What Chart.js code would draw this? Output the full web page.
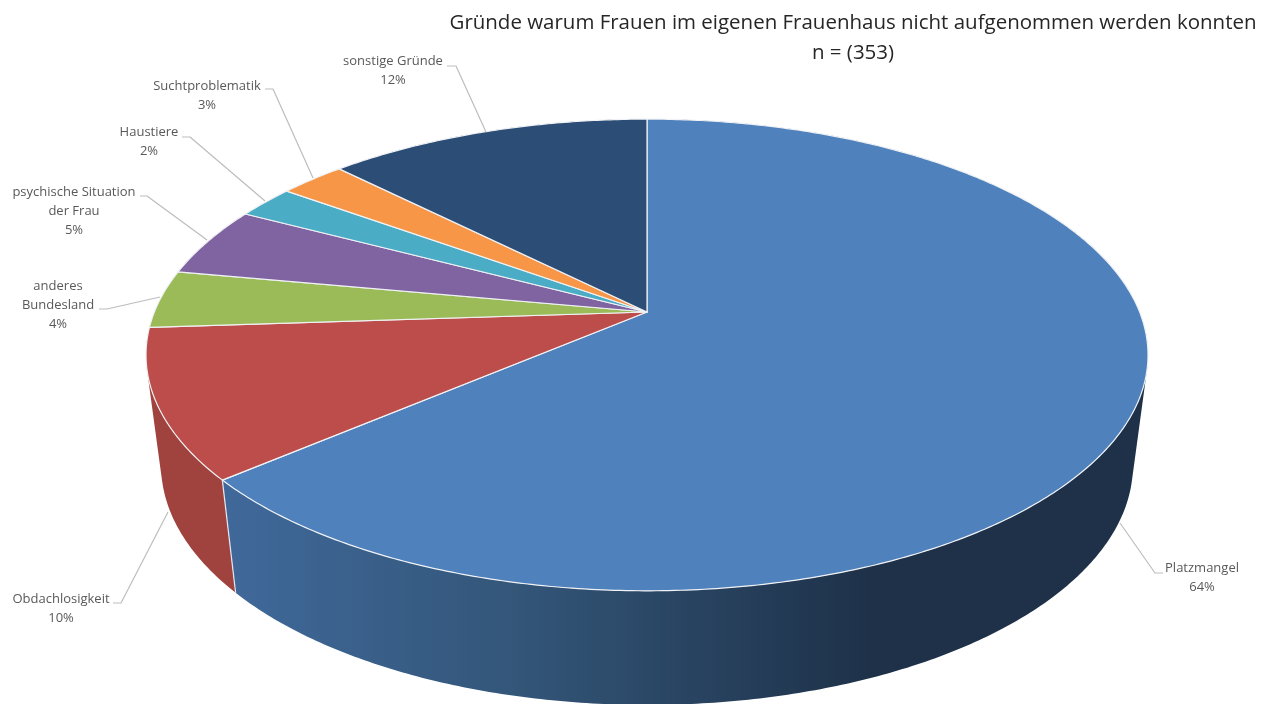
<!DOCTYPE html>
<html lang="de">
<head>
<meta charset="utf-8">
<title>Gründe warum Frauen nicht aufgenommen werden konnten</title>
<script src="https://cdn.jsdelivr.net/npm/chart.js@4/dist/chart.umd.js"></script>
<style>
  html, body { margin: 0; padding: 0; background: #fff; overflow: hidden; }
  canvas { display: block; filter: blur(0.35px); }
</style>
</head>
<body>
<canvas id="pie" width="1274" height="704"></canvas>
<script>
// --- data
const titleLines = ['Gründe warum Frauen im eigenen Frauenhaus nicht aufgenommen werden konnten', 'n = (353)'];
const categories = ['Platzmangel', 'Obdachlosigkeit', ['anderes', 'Bundesland'], ['psychische Situation', 'der Frau'], 'Haustiere', 'Suchtproblematik', 'sonstige Gründe'];
const counts = [225, 36, 14, 17, 8, 9, 44];
const topColors = ['#4f81bd', '#bd4d4a', '#9bbb59', '#8064a2', '#4bacc6', '#f79646', '#2c4d75'];
const wallColors = ['#3f6a9c', '#a0433f', '#7f9a49', '#6a5386', '#3e8ea4', '#cc7c3a', '#243f60'];

// --- perspective of the two discs (top face and bottom face)
const topDisc = { cx: 647, cy: 312, a: 492.6, b: 228, k: 0.1822 };
const bottomDisc = { cx: 647, cy: 422, a: 478, b: 232, k: 0.18 };

// --- label placement: centre x, first line y, leader polyline
const labelSpots = [
  { x: 1202, y: 568, line: [[1163, 573], [1155, 573], [1120, 523]] },
  { x: 61, y: 599, line: [[113, 603], [121, 603], [168, 512]] },
  { x: 58, y: 286, line: [[99, 309], [107, 309], [160, 297]] },
  { x: 74, y: 192, line: [[140, 196], [147, 196], [207, 240]] },
  { x: 149, y: 132, line: [[182, 137], [190, 137], [265, 201]] },
  { x: 207, y: 86, line: [[265, 89], [273, 89], [313, 178]] },
  { x: 393, y: 61, line: [[447, 66], [456, 66], [486, 132]] }
];

// project a pie angle onto a disc, nearer edge gets bigger
function project(disc, angle) {
  const u = Math.cos(angle), v = Math.sin(angle);
  const w = 1 - disc.k * v;
  return [disc.cx + disc.a * u / w, disc.cy + disc.b * v / w];
}

function traceRim(ctx, disc, from, to) {
  const steps = Math.max(2, Math.ceil(Math.abs(to - from) / 0.01));
  for (let i = 0; i <= steps; i++) {
    const p = project(disc, from + (to - from) * i / steps);
    ctx.lineTo(p[0], p[1]);
  }
}

// small quads in one path, all wound the same way, so there are no seams
// and the outline follows the tangent between the two rims
function fillWall(ctx, from, to, style) {
  const steps = Math.max(2, Math.ceil((to - from) / 0.01));
  ctx.beginPath();
  for (let i = 0; i < steps; i++) {
    const a0 = from + (to - from) * i / steps;
    const a1 = from + (to - from) * (i + 1) / steps;
    const p = [project(topDisc, a0), project(topDisc, a1), project(bottomDisc, a1), project(bottomDisc, a0)];
    let area = 0;
    p.forEach((q, n) => {
      const r = p[(n + 1) % 4];
      area += q[0] * r[1] - r[0] * q[1];
    });
    if (area < 0) p.reverse();
    p.forEach((q, n) => n ? ctx.lineTo(q[0], q[1]) : ctx.moveTo(q[0], q[1]));
    ctx.closePath();
  }
  ctx.fillStyle = style;
  ctx.fill('nonzero');
}

// --- draws the arcs chart.js laid out, tilted and with a side wall
const tiltedPie = {
  id: 'tiltedPie',
  beforeDatasetDraw(chart, args) {
    const ctx = chart.ctx;
    const arcs = args.meta.data;

    // walls, back slices first so the front ones cover them
    for (let i = arcs.length - 1; i >= 0; i--) {
      let style = wallColors[i];
      if (i === 0) {
        style = ctx.createLinearGradient(222, 0, 870, 0);
        style.addColorStop(0, '#40699b');
        style.addColorStop(0.45, '#335679');
        style.addColorStop(1, '#1e3149');
      }
      fillWall(ctx, arcs[i].startAngle, arcs[i].endAngle, style);
    }

    // edge between red and blue wall
    const a = project(topDisc, arcs[1].startAngle);
    const b = project(bottomDisc, arcs[1].startAngle);
    ctx.strokeStyle = '#e4e8ee';
    ctx.lineWidth = 1.2;
    ctx.beginPath();
    ctx.moveTo(a[0], a[1]);
    ctx.lineTo(b[0], b[1]);
    ctx.stroke();

    // top face
    arcs.forEach((arc, i) => {
      ctx.beginPath();
      ctx.moveTo(topDisc.cx, topDisc.cy);
      traceRim(ctx, topDisc, arc.startAngle, arc.endAngle);
      ctx.closePath();
      ctx.fillStyle = topColors[i];
      ctx.fill();
      ctx.strokeStyle = '#f0f2f5';
      ctx.lineWidth = 1.2;
      ctx.lineJoin = 'round';
      ctx.stroke();
    });

    return false;
  },
  afterDraw(chart) {
    const ctx = chart.ctx;
    const total = counts.reduce((s, v) => s + v, 0);
    ctx.save();

    // leaders
    ctx.strokeStyle = '#bdbdbd';
    ctx.lineWidth = 1.2;
    labelSpots.forEach(spot => {
      ctx.beginPath();
      spot.line.forEach((p, i) => i ? ctx.lineTo(p[0], p[1]) : ctx.moveTo(p[0], p[1]));
      ctx.stroke();
    });

    // data labels
    ctx.font = '13px "Open Sans"';
    ctx.fillStyle = '#595959';
    ctx.textAlign = 'center';
    ctx.textBaseline = 'middle';
    categories.forEach((name, i) => {
      const lines = [].concat(name, Math.round(counts[i] / total * 100) + '%');
      lines.forEach((t, n) => ctx.fillText(t, labelSpots[i].x, labelSpots[i].y + n * 19));
    });

    // title
    ctx.font = '20.5px "Open Sans"';
    ctx.fillStyle = '#262626';
    ctx.fillText(titleLines[0], 853, 23, 807);
    ctx.fillText(titleLines[1], 853, 53);
    ctx.restore();
  }
};

// --- chart
new Chart(document.getElementById('pie'), {
  type: 'pie',
  data: {
    labels: categories,
    datasets: [{ data: counts, backgroundColor: topColors, borderWidth: 0 }]
  },
  options: {
    responsive: false,
    animation: false,
    plugins: { legend: { display: false }, tooltip: { enabled: false } }
  },
  plugins: [tiltedPie]
});
</script>
</body>
</html>
